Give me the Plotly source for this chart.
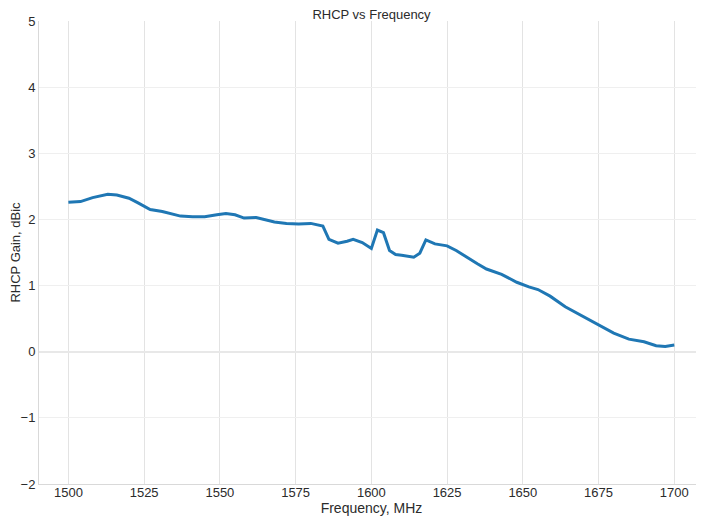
"""RHCP gain vs frequency line chart."""

import plotly.graph_objects as go

freq_mhz = [
    1500, 1504, 1508, 1513, 1516, 1520, 1523, 1527, 1531, 1534,
    1537, 1541, 1545, 1549, 1552, 1555, 1558, 1562, 1565, 1568,
    1572, 1576, 1580, 1584, 1586, 1589, 1592, 1594, 1597, 1600,
    1602, 1604, 1606, 1608, 1610, 1612, 1614, 1616, 1618, 1621,
    1625, 1628, 1630, 1633, 1635, 1638, 1643, 1648, 1652, 1655,
    1659, 1664, 1670, 1674, 1680, 1685, 1690, 1694, 1697, 1700,
]
rhcp_gain = [
    2.26, 2.27, 2.33, 2.38, 2.37, 2.32, 2.25, 2.15, 2.12, 2.09,
    2.05, 2.04, 2.04, 2.07, 2.09, 2.07, 2.02, 2.03, 2.00, 1.96,
    1.94, 1.93, 1.94, 1.90, 1.70, 1.64, 1.67, 1.70, 1.65, 1.56,
    1.84, 1.80, 1.53, 1.47, 1.46, 1.44, 1.43, 1.49, 1.69, 1.63,
    1.60, 1.53, 1.47, 1.38, 1.33, 1.25, 1.17, 1.05, 0.98, 0.94,
    0.84, 0.68, 0.53, 0.43, 0.28, 0.19, 0.15, 0.09, 0.08, 0.10,
]

font = "Liberation Sans, Arial, sans-serif"
text_color = "#2b2b2b"

fig = go.Figure(
    go.Scatter(
        x=freq_mhz,
        y=rhcp_gain,
        mode="lines",
        line=dict(color="#1f77b4", width=3),
        showlegend=False,
    )
)

# the page body has an 8px margin, so the figure is sized to fit after it
fig.update_layout(
    width=696,
    height=508,
    margin=dict(l=31, r=0, t=13, b=32),
    paper_bgcolor="white",
    plot_bgcolor="white",
    font=dict(family=font, size=13, color=text_color),
    title=dict(
        text="RHCP vs Frequency",
        x=0.5,
        xref="paper",
        xanchor="center",
        y=1 - 6.5 / 508,
        yref="container",
        yanchor="middle",
        font=dict(size=13, color=text_color),
    ),
)
fig.update_xaxes(
    title=dict(text="Frequency, MHz", standoff=0, font=dict(size=14)),
    range=[1490.3, 1709.8],
    tickvals=[1500, 1525, 1550, 1575, 1600, 1625, 1650, 1675, 1700],
    showgrid=True,
    gridcolor="#e3e3e3",
    zeroline=False,
    showline=True,
    linecolor="#d9d9d9",
    tickfont=dict(size=13),
    ticklabelstandoff=-4,
)
fig.update_yaxes(
    title=dict(text="RHCP Gain, dBic", standoff=4, font=dict(size=13)),
    range=[-2, 5],
    dtick=1,
    showgrid=True,
    gridcolor="#efefef",
    zeroline=True,
    zerolinecolor="#e8e8e8",
    showline=True,
    linecolor="#d9d9d9",
    tickfont=dict(size=13),
)

fig.write_html("out.html")
